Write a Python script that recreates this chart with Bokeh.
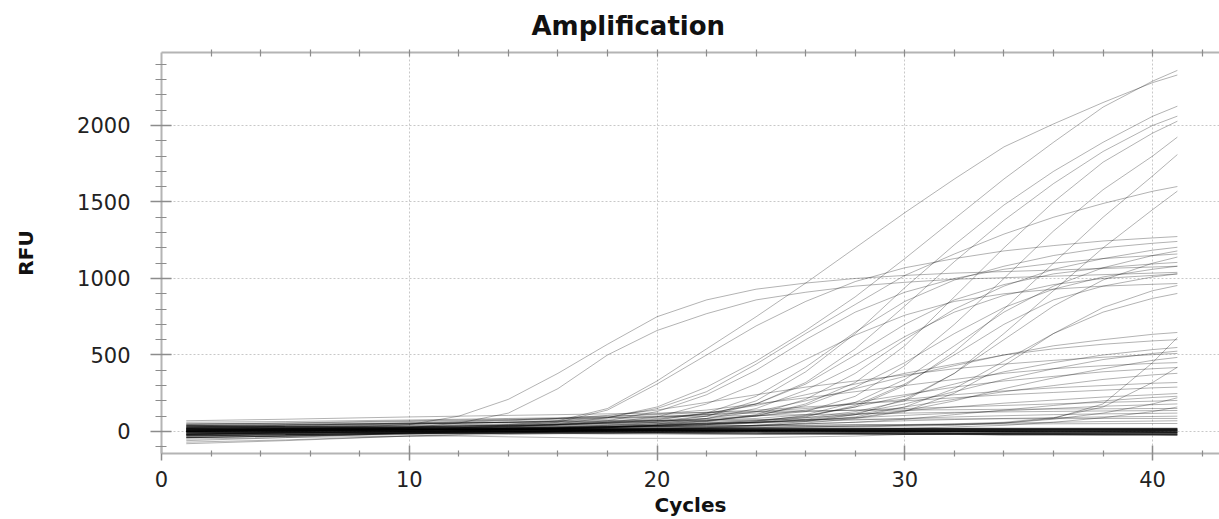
from bokeh.plotting import figure
from bokeh.models import FixedTicker, LinearAxis, Range1d
from bokeh.embed import file_html
from bokeh.resources import INLINE

# ---- data (RFU at each cycle) ----
CYCLES = [1, 5, 10, 12, 14, 16, 18, 20, 22, 24, 26, 28, 30, 32, 34, 36, 38, 40, 41]

HIGH = [
    [10, 20, 30, 35, 45, 70, 150, 330, 540, 750, 970, 1200, 1430, 1650, 1860, 2010, 2150, 2280, 2330],
    [0, 10, 20, 25, 35, 50, 90, 160, 290, 460, 660, 880, 1130, 1390, 1650, 1890, 2120, 2290, 2360],
    [-10, 0, 10, 15, 20, 30, 40, 60, 100, 200, 390, 640, 940, 1220, 1480, 1700, 1890, 2060, 2126],
    [20, 25, 30, 35, 40, 45, 55, 70, 100, 180, 320, 540, 820, 1110, 1380, 1620, 1830, 2000, 2061],
    [-20, -10, 0, 5, 10, 20, 30, 45, 70, 100, 180, 320, 560, 880, 1200, 1500, 1760, 1950, 2028],
    [30, 35, 40, 45, 50, 55, 60, 70, 85, 100, 130, 230, 430, 700, 1000, 1310, 1580, 1800, 1924],
    [0, 5, 10, 15, 20, 25, 30, 40, 55, 70, 100, 160, 300, 520, 800, 1100, 1400, 1670, 1810],
    [40, 45, 50, 55, 60, 70, 90, 150, 260, 440, 640, 830, 1020, 1160, 1290, 1400, 1490, 1570, 1601],
    [-5, 0, 5, 10, 15, 20, 25, 35, 45, 60, 90, 130, 200, 380, 640, 920, 1200, 1450, 1571],
]

UPPER = [
    [20, 25, 30, 35, 40, 60, 140, 310, 500, 690, 850, 980, 1070, 1130, 1180, 1215, 1245, 1265, 1274],
    [10, 15, 20, 25, 30, 40, 55, 75, 120, 230, 420, 650, 850, 990, 1080, 1150, 1200, 1230, 1242],
    [-10, -5, 0, 5, 10, 15, 25, 40, 65, 110, 210, 380, 600, 800, 950, 1060, 1130, 1185, 1204],
    [50, 50, 55, 55, 60, 60, 65, 70, 75, 85, 110, 190, 340, 560, 780, 950, 1070, 1150, 1180],
    [0, 5, 15, 20, 30, 45, 70, 130, 240, 400, 600, 780, 910, 1000, 1060, 1100, 1130, 1150, 1160],
    [-30, -20, -10, -5, 0, 5, 10, 15, 25, 40, 65, 110, 210, 380, 600, 820, 990, 1100, 1140],
    [15, 20, 25, 30, 35, 45, 60, 80, 115, 180, 310, 500, 700, 860, 960, 1030, 1070, 1095, 1105],
    [0, 10, 45, 100, 210, 380, 570, 750, 860, 930, 970, 1000, 1020, 1035, 1045, 1055, 1065, 1075, 1080],
    [-20, -5, 25, 55, 120, 280, 500, 660, 770, 860, 910, 950, 975, 995, 1005, 1015, 1025, 1035, 1040],
    [30, 30, 35, 40, 45, 50, 55, 60, 65, 75, 95, 170, 310, 500, 700, 860, 950, 1010, 1030],
    [5, 10, 20, 25, 35, 45, 60, 95, 180, 310, 470, 630, 760, 850, 900, 930, 950, 962, 967],
    [-40, -30, -20, -15, -10, -5, 0, 10, 20, 35, 55, 85, 130, 250, 430, 640, 810, 920, 954],
    [25, 30, 35, 35, 40, 40, 45, 50, 55, 60, 70, 95, 160, 280, 460, 640, 780, 870, 902],
    [10, 15, 20, 25, 30, 35, 40, 50, 70, 105, 170, 290, 450, 640, 810, 930, 1010, 1060, 1080],
    [0, 5, 10, 15, 20, 25, 35, 50, 85, 150, 270, 430, 620, 780, 890, 960, 1000, 1020, 1030],
]

MID = [
    [10, 15, 25, 30, 35, 45, 55, 65, 85, 130, 200, 280, 360, 430, 500, 560, 600, 635, 647],
    [0, 5, 10, 10, 15, 15, 20, 20, 25, 25, 30, 35, 40, 45, 55, 85, 180, 450, 614],
    [40, 45, 50, 55, 60, 65, 70, 85, 120, 170, 240, 310, 380, 440, 500, 540, 570, 592, 600],
    [-15, -10, 0, 5, 10, 15, 25, 35, 45, 65, 105, 160, 230, 310, 390, 450, 500, 535, 549],
    [30, 40, 55, 65, 75, 85, 105, 140, 190, 240, 290, 330, 370, 410, 440, 465, 485, 502, 510],
    [5, 10, 15, 20, 25, 30, 35, 40, 50, 60, 70, 90, 135, 200, 280, 350, 410, 465, 484],
    [20, 20, 25, 25, 30, 30, 30, 35, 35, 40, 40, 45, 45, 50, 60, 90, 160, 320, 420],
    [15, 20, 30, 35, 40, 45, 50, 60, 75, 100, 140, 190, 240, 290, 330, 360, 390, 410, 418],
    [-5, 0, 10, 15, 20, 25, 30, 40, 50, 60, 75, 110, 160, 210, 260, 300, 340, 370, 380],
    [50, 55, 65, 70, 75, 85, 95, 115, 140, 180, 220, 260, 300, 340, 380, 410, 430, 445, 450],
    [0, 5, 10, 15, 20, 20, 25, 30, 40, 55, 80, 120, 180, 260, 340, 410, 470, 510, 525],
]

LOW = [
    [20, 30, 45, 55, 60, 70, 80, 95, 110, 130, 150, 180, 210, 240, 265, 285, 300, 315, 320],
    [60, 65, 75, 80, 85, 90, 100, 110, 125, 140, 160, 180, 200, 220, 240, 255, 270, 285, 290],
    [-60, -40, -10, 0, 10, 20, 30, 40, 55, 70, 90, 110, 135, 160, 185, 205, 225, 240, 248],
    [10, 15, 20, 20, 25, 25, 30, 30, 35, 40, 50, 60, 80, 110, 140, 170, 200, 222, 230],
    [30, 40, 55, 60, 70, 80, 90, 100, 110, 120, 130, 140, 150, 160, 170, 180, 190, 198, 203],
    [-20, -10, 5, 10, 15, 20, 30, 40, 50, 60, 75, 90, 105, 120, 135, 150, 165, 175, 180],
    [45, 55, 70, 75, 80, 85, 90, 95, 100, 105, 110, 115, 120, 125, 128, 131, 134, 136, 137],
    [0, 5, 10, 15, 20, 25, 30, 35, 45, 55, 65, 75, 85, 95, 103, 110, 115, 118, 120],
    [-80, -60, -30, -20, -10, 0, 10, 20, 30, 40, 50, 60, 70, 78, 85, 90, 95, 98, 100],
    [25, 35, 50, 55, 60, 65, 70, 72, 74, 76, 78, 80, 81, 82, 83, 84, 85, 85, 85],
    [-40, -30, -10, -5, 0, 5, 10, 15, 20, 25, 30, 35, 40, 48, 55, 60, 65, 68, 70],
    [10, 15, 20, 22, 25, 27, 30, 32, 35, 37, 40, 42, 44, 46, 48, 50, 51, 52, 52],
    [5, 10, 15, 15, 20, 20, 25, 25, 25, 30, 30, 30, 35, 40, 55, 80, 120, 180, 220],
    [70, 80, 95, 100, 105, 110, 115, 120, 125, 130, 135, 138, 140, 142, 145, 147, 148, 150, 150],
    [-50, -40, -30, -30, -35, -40, -45, -45, -45, -40, -35, -30, -20, -15, -10, -5, 0, 5, 5],
    [-70, -55, -30, -25, -20, -15, -10, -5, 0, 5, 10, 15, 20, 30, 40, 60, 90, 130, 160],
]

BASE = [
    [0, 2, 5, 5, 6, 6, 7, 7, 7, 6, 6, 5, 5, 4, 4, 3, 3, 2, 2],
    [-10, -6, -2, 0, 1, 2, 3, 3, 3, 2, 2, 1, 0, -2, -3, -4, -5, -6, -6],
    [10, 10, 12, 12, 12, 13, 13, 13, 13, 13, 13, 13, 13, 12, 12, 12, 12, 12, 12],
    [-20, -14, -6, -4, -2, 0, 1, 1, 0, -2, -4, -6, -8, -10, -12, -14, -16, -17, -18],
    [20, 18, 16, 15, 14, 14, 13, 12, 11, 10, 10, 9, 9, 9, 8, 8, 8, 8, 8],
    [-5, -3, 0, 2, 4, 5, 6, 6, 5, 4, 3, 2, 1, 0, -1, -2, -3, -4, -5],
    [5, 7, 10, 11, 12, 13, 14, 15, 15, 15, 15, 15, 15, 15, 14, 14, 14, 14, 14],
    [-30, -22, -10, -7, -4, -4, -5, -6, -8, -10, -12, -14, -16, -18, -20, -21, -22, -23, -24],
    [15, 14, 14, 15, 16, 18, 19, 20, 20, 20, 20, 20, 20, 20, 20, 20, 20, 20, 20],
    [-15, -10, -4, -2, 0, 1, 2, 3, 4, 5, 5, 6, 6, 6, 6, 6, 6, 6, 6],
    [-40, -30, -15, -10, -8, -6, -6, -8, -9, -10, -10, -11, -11, -12, -12, -12, -12, -12, -12],
    [30, 24, 16, 12, 10, 8, 6, 5, 4, 3, 2, 1, 0, -1, -2, -2, -3, -3, -4],
    [40, 32, 25, 22, 20, 18, 17, 16, 16, 16, 16, 16, 17, 17, 17, 17, 17, 17, 17],
    [-25, -20, -12, -12, -12, -13, -14, -15, -16, -17, -18, -18, -19, -19, -20, -20, -20, -20, -20],
]

X_TICKS = [0, 10, 20, 30, 40]
X_MINOR = [2, 4, 6, 8, 12, 14, 16, 18, 22, 24, 26, 28, 32, 34, 36, 38, 42]
Y_TICKS = [0, 500, 1000, 1500, 2000]
Y_MINOR = [-100, 100, 200, 300, 400, 600, 700, 800, 900, 1100, 1200, 1300, 1400,
           1600, 1700, 1800, 1900, 2100, 2200, 2300, 2400]

FONT = "DejaVu Sans"
AXIS_GRAY = "#b4b4b4"
TICK_GRAY = "#8c8c8c"

p = figure(width=1219, height=519, output_backend="svg", toolbar_location=None,
           x_range=Range1d(0, 42.7), y_range=Range1d(-144, 2477),
           min_border_left=161, min_border_right=0, min_border_top=52,
           min_border_bottom=66, title="Amplification",
           x_axis_label="Cycles", y_axis_label="RFU")
p.outline_line_color = None
p.background_fill_color = "white"
p.border_fill_color = "white"

p.title.align = "left"
p.title.offset = 370
p.title.standoff = 17
p.title.text_font = FONT
p.title.text_font_size = "26px"
p.title.text_font_style = "bold"
p.title.text_color = "#111111"

xa = p.below[0]
xa.ticker = FixedTicker(ticks=X_TICKS, minor_ticks=X_MINOR)
ya = p.left[0]
ya.ticker = FixedTicker(ticks=Y_TICKS, minor_ticks=Y_MINOR)

for ax in (xa, ya):
    ax.axis_line_color = AXIS_GRAY
    ax.axis_line_width = 2
    ax.major_tick_line_color = TICK_GRAY
    ax.minor_tick_line_color = TICK_GRAY
    ax.major_tick_line_width = 1.5
    ax.minor_tick_line_width = 1.2
    ax.major_label_text_font = FONT
    ax.major_label_text_font_size = "21px"
    ax.major_label_text_color = "#222222"
    ax.axis_label_text_font = FONT
    ax.axis_label_text_font_size = "20px"
    ax.axis_label_text_font_style = "bold"
    ax.axis_label_text_color = "#111111"

ya.major_tick_out = 11
ya.major_tick_in = 10
ya.minor_tick_out = 6
ya.minor_tick_in = 5
ya.major_label_standoff = 20
ya.axis_label_standoff = 36

xa.major_tick_out = 7
xa.major_tick_in = 8
xa.minor_tick_out = 3
xa.minor_tick_in = 3
xa.major_label_standoff = 10
xa.axis_label_standoff = 3

top = LinearAxis(ticker=FixedTicker(ticks=[], minor_ticks=X_TICKS[1:] + X_MINOR))
top.axis_line_color = AXIS_GRAY
top.axis_line_width = 2
top.minor_tick_line_color = TICK_GRAY
top.minor_tick_line_width = 1.2
top.minor_tick_in = 4
top.minor_tick_out = 3
p.add_layout(top, "above")

p.xgrid.ticker = FixedTicker(ticks=X_TICKS[1:])
p.ygrid.ticker = FixedTicker(ticks=Y_TICKS)
for g in (p.xgrid, p.ygrid):
    g.grid_line_color = "#c8c8c8"
    g.grid_line_dash = "2 2"
    g.grid_line_width = 1

gray_curves = HIGH + UPPER + MID + LOW
p.multi_line(xs=[CYCLES] * len(gray_curves), ys=gray_curves,
             line_color="black", line_alpha=0.3, line_width=1)
p.multi_line(xs=[CYCLES] * len(BASE), ys=BASE,
             line_color="black", line_alpha=0.6, line_width=1.2)

open("out.html", "w").write(file_html(p, INLINE))
